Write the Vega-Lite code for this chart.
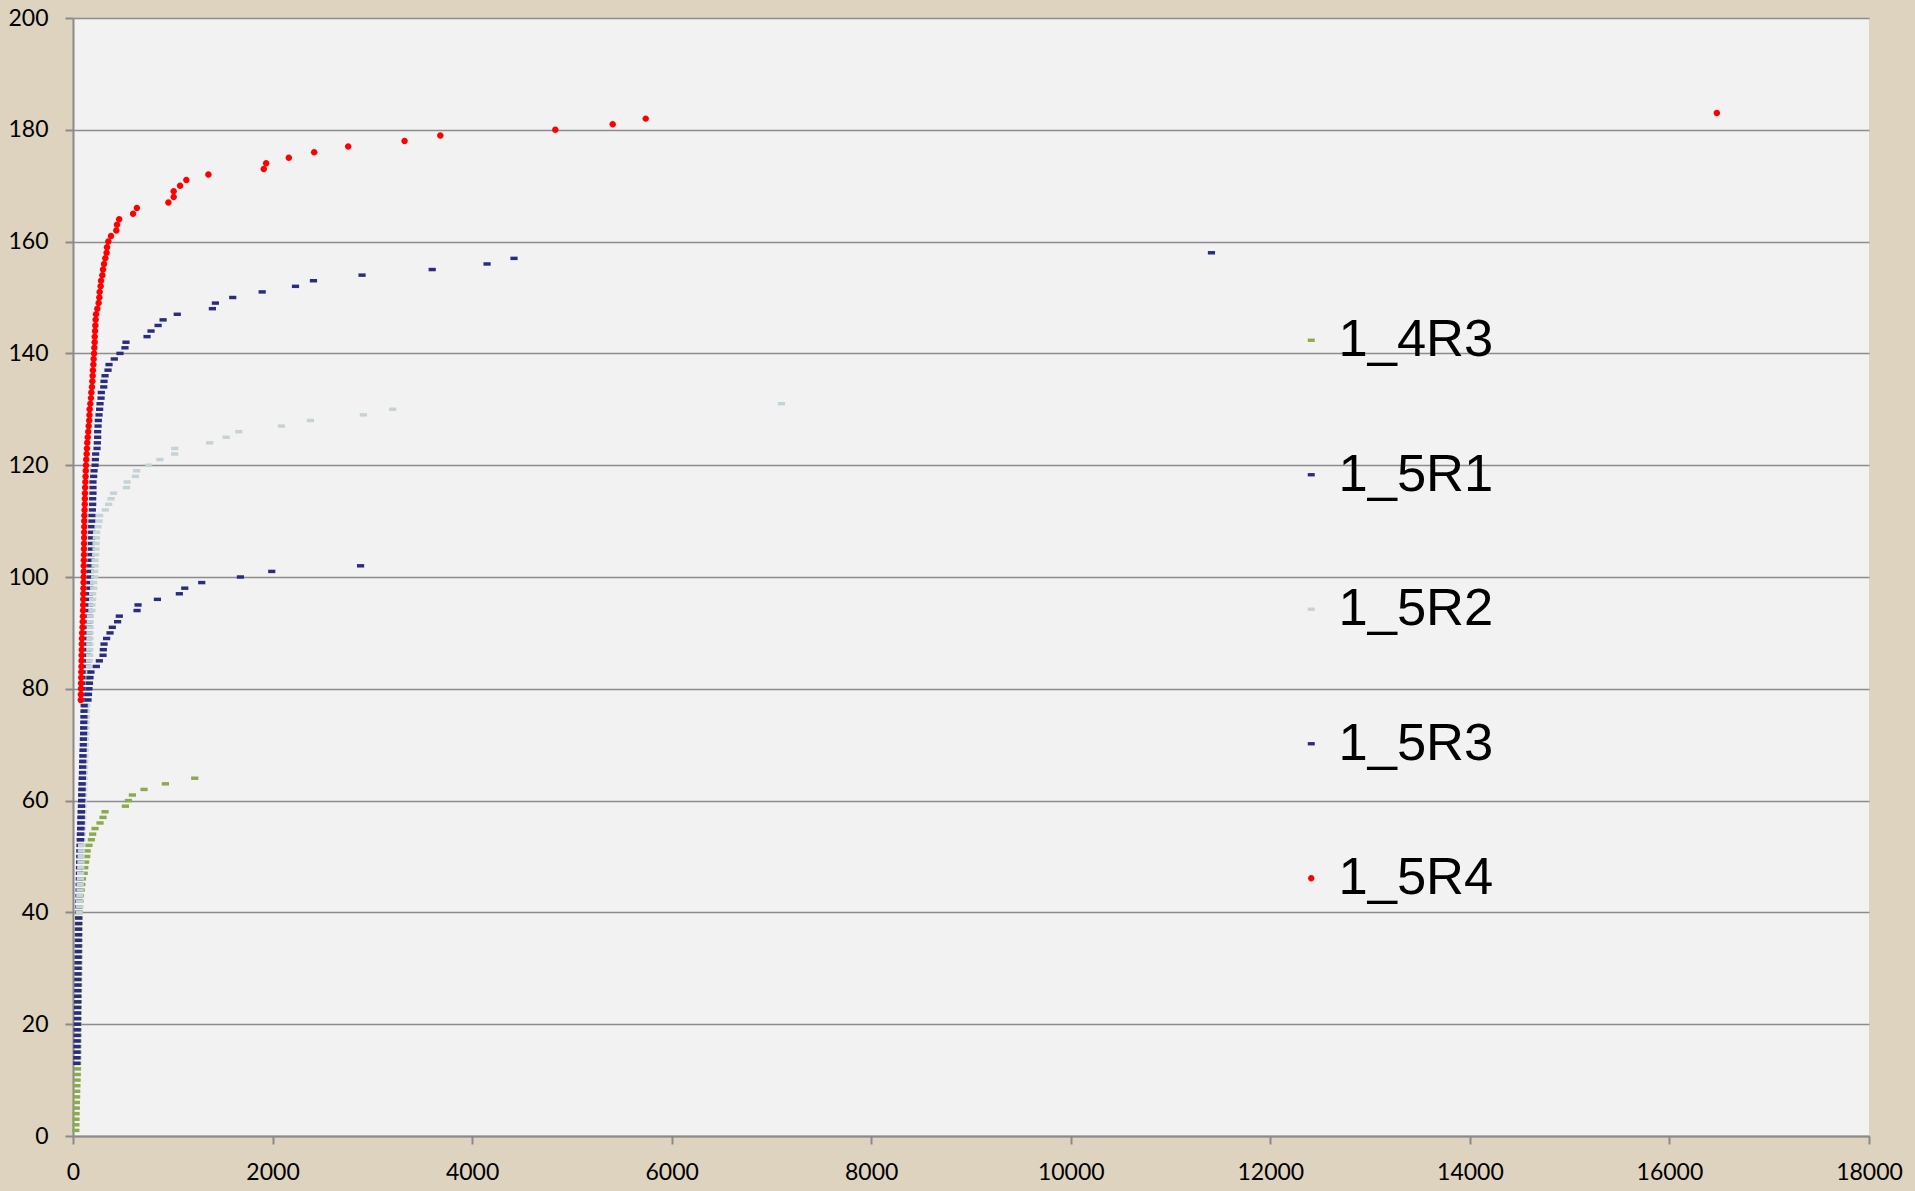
{
"$schema": "https://vega.github.io/schema/vega-lite/v6.json",
"autosize": {"type": "none"},
"width": 1796, "height": 1118,
"padding": {"left": 73, "top": 18, "right": 46, "bottom": 55},
"background": "#DDD3BF",
"view": {"fill": "#F2F2F2", "stroke": null},
"config": {
  "axis": {"labelFont": "Lato", "labelFontSize": 23, "labelColor": "#000000", "domainColor": "#8a8a8a", "domainWidth": 2, "tickColor": "#8a8a8a", "tickWidth": 2, "tickSize": 8, "title": null}
},
"data": {"values": [
{"s":"1_4R3","x":28,"y":1},{"s":"1_4R3","x":29,"y":2},{"s":"1_4R3","x":30,"y":3},{"s":"1_4R3","x":31,"y":4},{"s":"1_4R3","x":33,"y":5},{"s":"1_4R3","x":34,"y":6},{"s":"1_4R3","x":36,"y":7},{"s":"1_4R3","x":37,"y":8},{"s":"1_4R3","x":39,"y":9},{"s":"1_4R3","x":41,"y":10},{"s":"1_4R3","x":43,"y":11},{"s":"1_4R3","x":45,"y":12},
{"s":"1_4R3","x":46,"y":13},{"s":"1_4R3","x":47,"y":14},{"s":"1_4R3","x":48,"y":15},{"s":"1_4R3","x":48,"y":16},{"s":"1_4R3","x":49,"y":17},{"s":"1_4R3","x":50,"y":18},{"s":"1_4R3","x":50,"y":19},{"s":"1_4R3","x":51,"y":20},{"s":"1_4R3","x":52,"y":21},{"s":"1_4R3","x":52,"y":22},{"s":"1_4R3","x":53,"y":23},{"s":"1_4R3","x":54,"y":24},{"s":"1_4R3","x":54,"y":25},{"s":"1_4R3","x":55,"y":26},{"s":"1_4R3","x":56,"y":27},{"s":"1_4R3","x":56,"y":28},{"s":"1_4R3","x":57,"y":29},{"s":"1_4R3","x":58,"y":30},{"s":"1_4R3","x":58,"y":31},{"s":"1_4R3","x":59,"y":32},{"s":"1_4R3","x":59,"y":33},{"s":"1_4R3","x":60,"y":34},{"s":"1_4R3","x":60,"y":35},{"s":"1_4R3","x":61,"y":36},{"s":"1_4R3","x":61,"y":37},{"s":"1_4R3","x":62,"y":38},{"s":"1_4R3","x":62,"y":39},{"s":"1_4R3","x":63,"y":40},
{"s":"1_4R3","x":66,"y":41},{"s":"1_4R3","x":70,"y":42},{"s":"1_4R3","x":75,"y":43},{"s":"1_4R3","x":82,"y":44},{"s":"1_4R3","x":88,"y":45},{"s":"1_4R3","x":95,"y":46},{"s":"1_4R3","x":112,"y":47},{"s":"1_4R3","x":118,"y":48},{"s":"1_4R3","x":126,"y":49},{"s":"1_4R3","x":138,"y":50},{"s":"1_4R3","x":142,"y":51},{"s":"1_4R3","x":160,"y":52},{"s":"1_4R3","x":184,"y":53},{"s":"1_4R3","x":197,"y":54},{"s":"1_4R3","x":221,"y":55},{"s":"1_4R3","x":271,"y":56},{"s":"1_4R3","x":301,"y":57},{"s":"1_4R3","x":321,"y":58},{"s":"1_4R3","x":525,"y":59},{"s":"1_4R3","x":555,"y":60},{"s":"1_4R3","x":595,"y":61},{"s":"1_4R3","x":712,"y":62},{"s":"1_4R3","x":926,"y":63},{"s":"1_4R3","x":1220,"y":64},

{"s":"1_5R1","x":38,"y":13},{"s":"1_5R1","x":39,"y":14},{"s":"1_5R1","x":40,"y":15},{"s":"1_5R1","x":40,"y":16},{"s":"1_5R1","x":41,"y":17},{"s":"1_5R1","x":42,"y":18},{"s":"1_5R1","x":42,"y":19},{"s":"1_5R1","x":43,"y":20},{"s":"1_5R1","x":44,"y":21},{"s":"1_5R1","x":44,"y":22},{"s":"1_5R1","x":45,"y":23},{"s":"1_5R1","x":46,"y":24},{"s":"1_5R1","x":46,"y":25},{"s":"1_5R1","x":47,"y":26},{"s":"1_5R1","x":48,"y":27},{"s":"1_5R1","x":48,"y":28},{"s":"1_5R1","x":49,"y":29},{"s":"1_5R1","x":50,"y":30},{"s":"1_5R1","x":50,"y":31},{"s":"1_5R1","x":51,"y":32},{"s":"1_5R1","x":52,"y":33},{"s":"1_5R1","x":52,"y":34},{"s":"1_5R1","x":53,"y":35},{"s":"1_5R1","x":54,"y":36},{"s":"1_5R1","x":54,"y":37},{"s":"1_5R1","x":55,"y":38},{"s":"1_5R1","x":56,"y":39},
{"s":"1_5R1","x":57,"y":40},{"s":"1_5R1","x":58,"y":41},{"s":"1_5R1","x":59,"y":42},{"s":"1_5R1","x":60,"y":43},{"s":"1_5R1","x":61,"y":44},{"s":"1_5R1","x":62,"y":45},{"s":"1_5R1","x":63,"y":46},{"s":"1_5R1","x":64,"y":47},{"s":"1_5R1","x":65,"y":48},{"s":"1_5R1","x":66,"y":49},{"s":"1_5R1","x":67,"y":50},{"s":"1_5R1","x":68,"y":51},{"s":"1_5R1","x":70,"y":52},
{"s":"1_5R1","x":72,"y":53},{"s":"1_5R1","x":74,"y":54},{"s":"1_5R1","x":76,"y":55},{"s":"1_5R1","x":78,"y":56},{"s":"1_5R1","x":80,"y":57},{"s":"1_5R1","x":82,"y":58},{"s":"1_5R1","x":84,"y":59},{"s":"1_5R1","x":86,"y":60},{"s":"1_5R1","x":88,"y":61},{"s":"1_5R1","x":90,"y":62},{"s":"1_5R1","x":92,"y":63},{"s":"1_5R1","x":94,"y":64},{"s":"1_5R1","x":96,"y":65},{"s":"1_5R1","x":98,"y":66},{"s":"1_5R1","x":100,"y":67},{"s":"1_5R1","x":102,"y":68},{"s":"1_5R1","x":104,"y":69},{"s":"1_5R1","x":106,"y":70},{"s":"1_5R1","x":108,"y":71},{"s":"1_5R1","x":110,"y":72},{"s":"1_5R1","x":112,"y":73},{"s":"1_5R1","x":115,"y":74},{"s":"1_5R1","x":118,"y":75},{"s":"1_5R1","x":121,"y":76},{"s":"1_5R1","x":124,"y":77},
{"s":"1_5R1","x":127,"y":78},{"s":"1_5R1","x":130,"y":79},{"s":"1_5R1","x":133,"y":80},{"s":"1_5R1","x":136,"y":81},{"s":"1_5R1","x":139,"y":82},{"s":"1_5R1","x":141,"y":83},{"s":"1_5R1","x":143,"y":84},{"s":"1_5R1","x":145,"y":85},{"s":"1_5R1","x":147,"y":86},{"s":"1_5R1","x":149,"y":87},{"s":"1_5R1","x":151,"y":88},{"s":"1_5R1","x":153,"y":89},{"s":"1_5R1","x":155,"y":90},{"s":"1_5R1","x":157,"y":91},{"s":"1_5R1","x":159,"y":92},{"s":"1_5R1","x":161,"y":93},{"s":"1_5R1","x":162,"y":94},{"s":"1_5R1","x":163,"y":95},{"s":"1_5R1","x":165,"y":96},
{"s":"1_5R1","x":167,"y":97},{"s":"1_5R1","x":170,"y":98},{"s":"1_5R1","x":170,"y":99},{"s":"1_5R1","x":174,"y":100},{"s":"1_5R1","x":174,"y":101},{"s":"1_5R1","x":177,"y":102},{"s":"1_5R1","x":180,"y":103},{"s":"1_5R1","x":180,"y":104},{"s":"1_5R1","x":184,"y":105},{"s":"1_5R1","x":184,"y":106},{"s":"1_5R1","x":187,"y":107},{"s":"1_5R1","x":187,"y":108},{"s":"1_5R1","x":187,"y":109},{"s":"1_5R1","x":190,"y":110},{"s":"1_5R1","x":190,"y":111},{"s":"1_5R1","x":194,"y":112},{"s":"1_5R1","x":197,"y":113},{"s":"1_5R1","x":197,"y":114},{"s":"1_5R1","x":200,"y":115},{"s":"1_5R1","x":200,"y":116},{"s":"1_5R1","x":200,"y":117},{"s":"1_5R1","x":207,"y":118},{"s":"1_5R1","x":211,"y":119},{"s":"1_5R1","x":221,"y":120},{"s":"1_5R1","x":224,"y":121},{"s":"1_5R1","x":227,"y":122},{"s":"1_5R1","x":241,"y":123},{"s":"1_5R1","x":244,"y":124},{"s":"1_5R1","x":247,"y":125},{"s":"1_5R1","x":247,"y":126},{"s":"1_5R1","x":251,"y":127},{"s":"1_5R1","x":254,"y":128},{"s":"1_5R1","x":261,"y":129},{"s":"1_5R1","x":267,"y":130},{"s":"1_5R1","x":271,"y":131},{"s":"1_5R1","x":281,"y":132},{"s":"1_5R1","x":284,"y":133},{"s":"1_5R1","x":308,"y":134},{"s":"1_5R1","x":311,"y":135},{"s":"1_5R1","x":321,"y":136},{"s":"1_5R1","x":351,"y":137},{"s":"1_5R1","x":361,"y":138},{"s":"1_5R1","x":414,"y":139},{"s":"1_5R1","x":471,"y":140},{"s":"1_5R1","x":521,"y":141},{"s":"1_5R1","x":531,"y":142},{"s":"1_5R1","x":742,"y":143},{"s":"1_5R1","x":782,"y":144},{"s":"1_5R1","x":853,"y":145},{"s":"1_5R1","x":903,"y":146},{"s":"1_5R1","x":1045,"y":147},{"s":"1_5R1","x":1397,"y":148},{"s":"1_5R1","x":1427,"y":149},{"s":"1_5R1","x":1601,"y":150},{"s":"1_5R1","x":1896,"y":151},{"s":"1_5R1","x":2230,"y":152},{"s":"1_5R1","x":2410,"y":153},{"s":"1_5R1","x":2897,"y":154},{"s":"1_5R1","x":3600,"y":155},{"s":"1_5R1","x":4150,"y":156},{"s":"1_5R1","x":4420,"y":157},{"s":"1_5R1","x":11410,"y":158},

{"s":"1_5R2","x":62,"y":40},{"s":"1_5R2","x":64,"y":41},{"s":"1_5R2","x":66,"y":42},{"s":"1_5R2","x":68,"y":43},{"s":"1_5R2","x":70,"y":44},{"s":"1_5R2","x":72,"y":45},{"s":"1_5R2","x":74,"y":46},{"s":"1_5R2","x":76,"y":47},{"s":"1_5R2","x":78,"y":48},{"s":"1_5R2","x":80,"y":49},{"s":"1_5R2","x":82,"y":50},{"s":"1_5R2","x":84,"y":51},{"s":"1_5R2","x":86,"y":52},
{"s":"1_5R2","x":90,"y":53},{"s":"1_5R2","x":92,"y":54},{"s":"1_5R2","x":94,"y":55},{"s":"1_5R2","x":96,"y":56},{"s":"1_5R2","x":98,"y":57},{"s":"1_5R2","x":100,"y":58},{"s":"1_5R2","x":102,"y":59},{"s":"1_5R2","x":104,"y":60},{"s":"1_5R2","x":106,"y":61},{"s":"1_5R2","x":108,"y":62},{"s":"1_5R2","x":110,"y":63},{"s":"1_5R2","x":112,"y":64},{"s":"1_5R2","x":114,"y":65},{"s":"1_5R2","x":116,"y":66},{"s":"1_5R2","x":118,"y":67},{"s":"1_5R2","x":120,"y":68},{"s":"1_5R2","x":122,"y":69},{"s":"1_5R2","x":124,"y":70},{"s":"1_5R2","x":126,"y":71},{"s":"1_5R2","x":128,"y":72},{"s":"1_5R2","x":130,"y":73},{"s":"1_5R2","x":132,"y":74},{"s":"1_5R2","x":134,"y":75},{"s":"1_5R2","x":136,"y":76},{"s":"1_5R2","x":138,"y":77},
{"s":"1_5R2","x":150,"y":78},{"s":"1_5R2","x":155,"y":79},{"s":"1_5R2","x":158,"y":80},{"s":"1_5R2","x":160,"y":81},{"s":"1_5R2","x":162,"y":82},{"s":"1_5R2","x":163,"y":83},{"s":"1_5R2","x":165,"y":84},{"s":"1_5R2","x":166,"y":85},{"s":"1_5R2","x":167,"y":86},{"s":"1_5R2","x":168,"y":87},{"s":"1_5R2","x":169,"y":88},{"s":"1_5R2","x":170,"y":89},{"s":"1_5R2","x":171,"y":90},{"s":"1_5R2","x":172,"y":91},{"s":"1_5R2","x":173,"y":92},
{"s":"1_5R2","x":174,"y":93},{"s":"1_5R2","x":190,"y":94},{"s":"1_5R2","x":190,"y":95},{"s":"1_5R2","x":197,"y":96},{"s":"1_5R2","x":197,"y":97},{"s":"1_5R2","x":207,"y":98},{"s":"1_5R2","x":207,"y":99},{"s":"1_5R2","x":217,"y":100},{"s":"1_5R2","x":217,"y":101},{"s":"1_5R2","x":221,"y":102},{"s":"1_5R2","x":221,"y":103},{"s":"1_5R2","x":227,"y":104},{"s":"1_5R2","x":231,"y":105},{"s":"1_5R2","x":231,"y":106},{"s":"1_5R2","x":234,"y":107},{"s":"1_5R2","x":237,"y":108},{"s":"1_5R2","x":251,"y":109},{"s":"1_5R2","x":261,"y":110},{"s":"1_5R2","x":267,"y":111},{"s":"1_5R2","x":324,"y":112},{"s":"1_5R2","x":357,"y":113},{"s":"1_5R2","x":381,"y":114},{"s":"1_5R2","x":406,"y":115},{"s":"1_5R2","x":536,"y":116},{"s":"1_5R2","x":543,"y":117},{"s":"1_5R2","x":626,"y":118},{"s":"1_5R2","x":638,"y":119},{"s":"1_5R2","x":759,"y":120},{"s":"1_5R2","x":871,"y":121},{"s":"1_5R2","x":1019,"y":122},{"s":"1_5R2","x":1019,"y":123},{"s":"1_5R2","x":1370,"y":124},{"s":"1_5R2","x":1535,"y":125},{"s":"1_5R2","x":1661,"y":126},{"s":"1_5R2","x":2089,"y":127},{"s":"1_5R2","x":2380,"y":128},{"s":"1_5R2","x":2910,"y":129},{"s":"1_5R2","x":3204,"y":130},{"s":"1_5R2","x":7100,"y":131},

{"s":"1_5R3","x":76,"y":53},{"s":"1_5R3","x":78,"y":54},{"s":"1_5R3","x":80,"y":55},{"s":"1_5R3","x":82,"y":56},{"s":"1_5R3","x":83,"y":57},{"s":"1_5R3","x":85,"y":58},{"s":"1_5R3","x":86,"y":59},{"s":"1_5R3","x":88,"y":60},{"s":"1_5R3","x":89,"y":61},{"s":"1_5R3","x":91,"y":62},{"s":"1_5R3","x":92,"y":63},{"s":"1_5R3","x":94,"y":64},{"s":"1_5R3","x":95,"y":65},{"s":"1_5R3","x":97,"y":66},{"s":"1_5R3","x":98,"y":67},{"s":"1_5R3","x":100,"y":68},{"s":"1_5R3","x":101,"y":69},{"s":"1_5R3","x":103,"y":70},{"s":"1_5R3","x":104,"y":71},{"s":"1_5R3","x":106,"y":72},{"s":"1_5R3","x":107,"y":73},{"s":"1_5R3","x":108,"y":74},{"s":"1_5R3","x":109,"y":75},{"s":"1_5R3","x":110,"y":76},{"s":"1_5R3","x":112,"y":77},
{"s":"1_5R3","x":150,"y":78},{"s":"1_5R3","x":155,"y":79},{"s":"1_5R3","x":160,"y":80},{"s":"1_5R3","x":165,"y":81},{"s":"1_5R3","x":170,"y":82},{"s":"1_5R3","x":180,"y":83},{"s":"1_5R3","x":234,"y":84},{"s":"1_5R3","x":264,"y":85},{"s":"1_5R3","x":301,"y":86},{"s":"1_5R3","x":304,"y":87},{"s":"1_5R3","x":311,"y":88},{"s":"1_5R3","x":337,"y":89},{"s":"1_5R3","x":371,"y":90},{"s":"1_5R3","x":394,"y":91},{"s":"1_5R3","x":447,"y":92},{"s":"1_5R3","x":464,"y":93},{"s":"1_5R3","x":642,"y":94},{"s":"1_5R3","x":652,"y":95},{"s":"1_5R3","x":846,"y":96},{"s":"1_5R3","x":1066,"y":97},{"s":"1_5R3","x":1120,"y":98},{"s":"1_5R3","x":1290,"y":99},{"s":"1_5R3","x":1678,"y":100},{"s":"1_5R3","x":1992,"y":101},{"s":"1_5R3","x":2882,"y":102},

{"s":"1_5R4","x":78,"y":78},{"s":"1_5R4","x":79,"y":79},{"s":"1_5R4","x":80,"y":80},{"s":"1_5R4","x":81,"y":81},{"s":"1_5R4","x":82,"y":82},{"s":"1_5R4","x":83,"y":83},{"s":"1_5R4","x":85,"y":84},{"s":"1_5R4","x":86,"y":85},{"s":"1_5R4","x":87,"y":86},{"s":"1_5R4","x":88,"y":87},{"s":"1_5R4","x":89,"y":88},{"s":"1_5R4","x":90,"y":89},{"s":"1_5R4","x":92,"y":90},{"s":"1_5R4","x":96,"y":91},{"s":"1_5R4","x":98,"y":92},{"s":"1_5R4","x":100,"y":93},{"s":"1_5R4","x":101,"y":94},{"s":"1_5R4","x":102,"y":95},{"s":"1_5R4","x":103,"y":96},{"s":"1_5R4","x":104,"y":97},{"s":"1_5R4","x":105,"y":98},{"s":"1_5R4","x":106,"y":99},{"s":"1_5R4","x":107,"y":100},{"s":"1_5R4","x":108,"y":101},{"s":"1_5R4","x":108,"y":102},{"s":"1_5R4","x":109,"y":103},{"s":"1_5R4","x":110,"y":104},{"s":"1_5R4","x":110,"y":105},{"s":"1_5R4","x":111,"y":106},{"s":"1_5R4","x":112,"y":107},{"s":"1_5R4","x":112,"y":108},{"s":"1_5R4","x":113,"y":109},{"s":"1_5R4","x":113,"y":110},{"s":"1_5R4","x":114,"y":111},{"s":"1_5R4","x":116,"y":112},{"s":"1_5R4","x":118,"y":113},{"s":"1_5R4","x":119,"y":114},{"s":"1_5R4","x":120,"y":115},{"s":"1_5R4","x":122,"y":116},{"s":"1_5R4","x":124,"y":117},{"s":"1_5R4","x":126,"y":118},{"s":"1_5R4","x":128,"y":119},{"s":"1_5R4","x":130,"y":120},{"s":"1_5R4","x":133,"y":121},{"s":"1_5R4","x":137,"y":122},{"s":"1_5R4","x":140,"y":123},{"s":"1_5R4","x":143,"y":124},{"s":"1_5R4","x":148,"y":125},{"s":"1_5R4","x":153,"y":126},{"s":"1_5R4","x":157,"y":127},{"s":"1_5R4","x":163,"y":128},{"s":"1_5R4","x":165,"y":129},{"s":"1_5R4","x":167,"y":130},{"s":"1_5R4","x":174,"y":131},{"s":"1_5R4","x":180,"y":132},{"s":"1_5R4","x":184,"y":133},{"s":"1_5R4","x":190,"y":134},{"s":"1_5R4","x":194,"y":135},{"s":"1_5R4","x":197,"y":136},{"s":"1_5R4","x":200,"y":137},{"s":"1_5R4","x":204,"y":138},{"s":"1_5R4","x":207,"y":139},{"s":"1_5R4","x":211,"y":140},{"s":"1_5R4","x":214,"y":141},{"s":"1_5R4","x":217,"y":142},{"s":"1_5R4","x":218,"y":143},{"s":"1_5R4","x":221,"y":144},{"s":"1_5R4","x":224,"y":145},{"s":"1_5R4","x":227,"y":146},{"s":"1_5R4","x":231,"y":147},{"s":"1_5R4","x":244,"y":148},{"s":"1_5R4","x":257,"y":149},{"s":"1_5R4","x":264,"y":150},{"s":"1_5R4","x":267,"y":151},{"s":"1_5R4","x":277,"y":152},{"s":"1_5R4","x":281,"y":153},{"s":"1_5R4","x":294,"y":154},{"s":"1_5R4","x":301,"y":155},{"s":"1_5R4","x":311,"y":156},{"s":"1_5R4","x":324,"y":157},{"s":"1_5R4","x":337,"y":158},{"s":"1_5R4","x":341,"y":159},{"s":"1_5R4","x":354,"y":160},{"s":"1_5R4","x":381,"y":161},{"s":"1_5R4","x":434,"y":162},{"s":"1_5R4","x":441,"y":163},{"s":"1_5R4","x":463,"y":164},{"s":"1_5R4","x":602,"y":165},{"s":"1_5R4","x":640,"y":166},{"s":"1_5R4","x":956,"y":167},{"s":"1_5R4","x":1009,"y":168},{"s":"1_5R4","x":1009,"y":169},{"s":"1_5R4","x":1073,"y":170},{"s":"1_5R4","x":1136,"y":171},{"s":"1_5R4","x":1357,"y":172},{"s":"1_5R4","x":1912,"y":173},{"s":"1_5R4","x":1936,"y":174},{"s":"1_5R4","x":2163,"y":175},{"s":"1_5R4","x":2417,"y":176},{"s":"1_5R4","x":2758,"y":177},{"s":"1_5R4","x":3323,"y":178},{"s":"1_5R4","x":3681,"y":179},{"s":"1_5R4","x":4834,"y":180},{"s":"1_5R4","x":5409,"y":181},{"s":"1_5R4","x":5740,"y":182},{"s":"1_5R4","x":16475,"y":183}
]},
"mark": {"type": "point", "filled": true, "opacity": 1, "size": 52, "stroke": "#d4d4d4", "strokeWidth": 1.2},
"encoding": {
  "x": {"field": "x", "type": "quantitative", "scale": {"domain": [0, 18000], "nice": false, "zero": true},
        "axis": {"values": [0,2000,4000,6000,8000,10000,12000,14000,16000,18000], "grid": false, "labelFlush": false, "labelPadding": 17, "labelOverlap": false, "format": "d"}},
  "y": {"field": "y", "type": "quantitative", "scale": {"domain": [0, 200], "nice": false},
        "axis": {"values": [0,20,40,60,80,100,120,140,160,180,200], "grid": true, "gridColor": "#8c8c8c", "gridWidth": 1.6, "gridOpacity": 1, "labelPadding": 17, "labelFlush": false, "format": "d"}},
  "color": {"field": "s", "type": "nominal",
    "scale": {"domain": ["1_4R3","1_5R1","1_5R2","1_5R3","1_5R4"], "range": ["#8AAA4E","#2A2D7F","#C4D3D5","#2A2D7F","#FF0000"]},
    "legend": {"title": null, "orient": "none", "legendX": 1212, "legendY": 296, "labelFont": "Liberation Sans", "labelFontSize": 52.5, "labelColor": "#000000", "labelOffset": 1, "rowPadding": 81.5, "symbolSize": 49, "symbolStrokeWidth": 0, "padding": 0}},
  "shape": {"field": "s", "type": "nominal",
    "scale": {"domain": ["1_4R3","1_5R1","1_5R2","1_5R3","1_5R4"], "range": ["M-1,-0.48L1,-0.48L1,0.48L-1,0.48Z","M-1,-0.48L1,-0.48L1,0.48L-1,0.48Z","M-1,-0.48L1,-0.48L1,0.48L-1,0.48Z","M-1,-0.48L1,-0.48L1,0.48L-1,0.48Z","M0.9,0A0.9,0.9,0,1,1,-0.9,0A0.9,0.9,0,1,1,0.9,0Z"]}},
  "strokeOpacity": {"field": "s", "type": "nominal", "scale": {"domain": ["1_4R3","1_5R1","1_5R2","1_5R3","1_5R4"], "range": [0,0,0,0,1]}, "legend": null}
}
}
